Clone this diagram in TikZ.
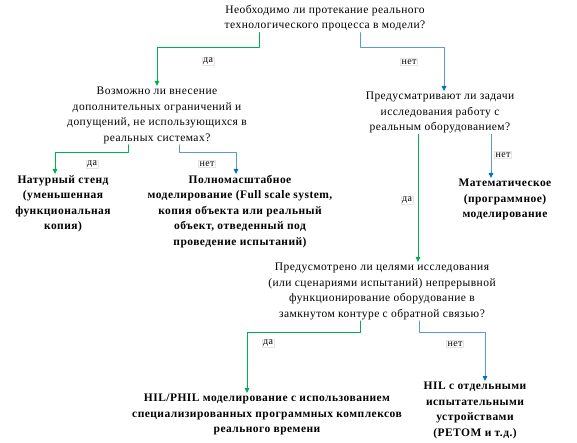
\documentclass[tikz,border=0pt]{standalone}
\usepackage{fontspec}
\setmainfont{Liberation Serif}[LetterSpace=4]
\usetikzlibrary{arrows.meta}
\begin{document}
\begin{tikzpicture}[x=1pt, y=-1pt, line cap=round, line join=round,
  question/.style={align=center, inner sep=1pt, anchor=north, font=\fontsize{11.5}{15.5}\selectfont},
  answer/.style={align=center, inner sep=1pt, anchor=north, font=\fontsize{11.5}{15.5}\selectfont\bfseries},
  yesline/.style={draw=yesgreen, line width=0.8pt, -{Triangle[width=4.5pt,length=5pt]}},
  noline/.style={draw=nolight, line width=0.8pt, -{Triangle[width=4.5pt,length=5pt,color=nodark]}},
  tag/.style={fill=white, draw=gray!20, line width=0.3pt, inner sep=1pt, font=\fontsize{10}{11}\selectfont}]
  \definecolor{yesgreen}{RGB}{0,176,80}
  \definecolor{nolight}{RGB}{91,155,213}
  \definecolor{nodark}{RGB}{0,112,192}
  \useasboundingbox (0,0) rectangle (577,443);
  \node[question] (q1) at (325,4) {Необходимо ли протекание реального\\технологического процесса в модели?};
  \node[question] (q2) at (157,86) {Возможно ли внесение\\дополнительных ограничений и\\допущений, не использующихся в\\реальных системах?};
  \node[question] (q3) at (440,91) {Предусматривают ли задачи\\исследования работу с\\реальным оборудованием?};
  \node[answer] (r1) at (63,174) {Натурный стенд\\(уменьшенная\\функциональная\\копия)};
  \node[answer] (r2) at (240,174) {Полномасштабное\\моделирование (Full scale system,\\копия объекта или реальный\\объект, отведенный под\\проведение испытаний)};
  \node[answer] (r3) at (505,178) {Математическое\\(программное)\\моделирование};
  \node[question] (q4) at (382,262) {Предусмотрено ли целями исследования\\(или сценариями испытаний) непрерывной\\функционирование оборудование в\\замкнутом контуре с обратной связью?};
  \node[answer] (r4) at (267,393) {HIL/PHIL моделирование с использованием\\специализированных программных комплексов\\реального времени};
  \node[answer] (r5) at (475,381) {HIL с отдельными\\испытательными\\устройствами\\(РЕТОМ и т.д.)};
  \draw[yesline] ([xshift=-66pt]q1.south) -- ++(0,15) -| (q2.north);
  \draw[noline] ([xshift=35pt]q1.south) -- ++(0,15) -| ([xshift=4pt]q3.north);
  \draw[yesline] ([xshift=-29pt]q2.south) -- ++(0,8) -| ([xshift=-8pt]r1.north);
  \draw[noline] ([xshift=22pt]q2.south) -- ++(0,8) -| ([xshift=-4pt]r2.north);
  \draw[yesline] ([xshift=-22pt]q3.south) -- ([xshift=-22pt]q3.south |- q4.north);
  \draw[noline] ([xshift=51pt]q3.south) -- ([xshift=51pt]q3.south |- r3.north);
  \draw[yesline] ([xshift=-22pt]q4.south) -- ++(0,11) -| ([xshift=-20pt]r4.north);
  \draw[noline] ([xshift=37pt]q4.south) -- ++(0,11) -| ([xshift=10pt]r5.north);
  \node[tag] (t1) at (208,61) {да};
  \node[tag] (t2) at (409,62) {нет};
  \node[tag] (t3) at (92,164) {да};
  \node[tag] (t4) at (207,164) {нет};
  \node[tag] (t5) at (407,200) {да};
  \node[tag] (t6) at (503,155) {нет};
  \node[tag] (t7) at (268,343) {да};
  \node[tag] (t8) at (455,344) {нет};
\end{tikzpicture}
\end{document}
